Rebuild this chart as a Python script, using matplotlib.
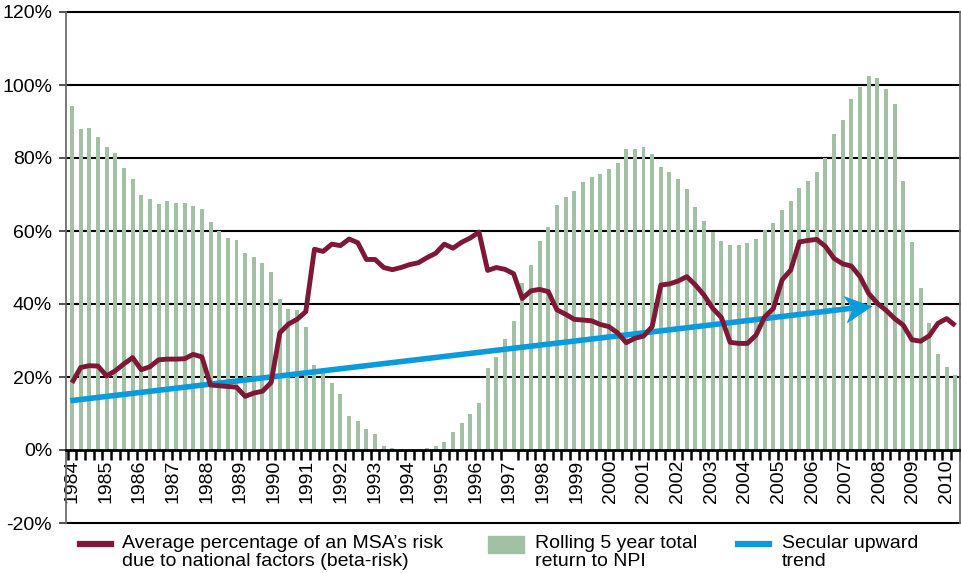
import numpy as np
import matplotlib
matplotlib.use("Agg")
import matplotlib.pyplot as plt
from matplotlib.lines import Line2D
from matplotlib.patches import Rectangle
from matplotlib.path import Path
from matplotlib.markers import MarkerStyle
from matplotlib.transforms import Affine2D

# ---------------- data ----------------
year_labels = [str(y) for y in range(1984, 2011)]

npi_rolling_return = [
    94.2, 87.9, 88.3, 85.8, 82.9, 81.4, 77.3, 74.3, 69.9, 68.8,
    67.3, 68.2, 67.7, 67.7, 66.9, 66.0, 62.4, 60.0, 58.2, 57.6,
    53.9, 52.8, 51.2, 48.9, 41.4, 38.6, 38.3, 33.6, 23.3, 21.0,
    18.4, 15.4, 9.3, 8.0, 5.8, 4.4, 1.1, 0.5, 0.0, 0.0,
    0.0, 0.5, 1.1, 2.2, 5.0, 7.3, 9.8, 13.0, 22.5, 25.5,
    30.3, 35.3, 45.7, 50.7, 57.3, 61.0, 67.1, 69.2, 71.0, 73.3,
    74.9, 75.5, 77.1, 78.7, 82.5, 82.5, 82.9, 81.0, 77.6, 76.1,
    74.2, 71.4, 66.5, 62.7, 59.6, 57.3, 56.1, 56.1, 56.8, 57.7,
    60.3, 62.2, 65.8, 68.2, 71.7, 73.8, 76.3, 79.9, 86.6, 90.4,
    96.1, 99.5, 102.5, 102.0, 98.9, 94.8, 73.8, 57.0, 44.3, 34.9,
    26.2, 22.7, 20.5,
]

beta_risk = [
    18.4, 22.6, 23.1, 23.0, 20.3, 21.7, 23.6, 25.3, 22.0, 22.8,
    24.7, 24.9, 24.9, 25.0, 26.2, 25.5, 17.8, 17.6, 17.4, 17.2,
    14.7, 15.6, 16.1, 18.5, 32.1, 34.5, 35.8, 37.9, 55.0, 54.4,
    56.4, 56.0, 57.8, 56.8, 52.2, 52.2, 50.0, 49.4, 50.0, 50.8,
    51.3, 52.7, 53.9, 56.4, 55.3, 56.9, 58.1, 59.7, 49.2, 50.0,
    49.5, 48.3, 41.5, 43.6, 44.0, 43.4, 38.4, 37.2, 35.8, 35.6,
    35.4, 34.4, 33.8, 32.1, 29.4, 30.6, 31.2, 33.8, 45.2, 45.5,
    46.3, 47.5, 45.2, 42.4, 38.8, 36.3, 29.5, 29.2, 29.2, 31.5,
    36.5, 38.8, 46.6, 49.3, 57.0, 57.4, 57.7, 55.8, 52.5, 51.0,
    50.4, 47.5, 42.9, 40.2, 38.3, 36.0, 34.2, 30.2, 29.8, 31.3,
    34.7, 36.0, 34.1,
]

trend_values = [13.5, 39.5]        # % at start / arrow tip
trend_quarters = [-0.2, 92.4]      # quarter index at start / arrow tip

y_ticks = [-20, 0, 20, 40, 60, 80, 100, 120]

legend_labels = [
    "Average percentage of an MSA\u2019s risk\ndue to national factors (beta-risk)",
    "Rolling 5 year total\nreturn to NPI",
    "Secular upward\ntrend",
]

# ---------------- style ----------------
GREEN = "#a2c1a4"
MAROON = "#7f1737"
BLUE = "#0a9bdc"

plt.rcParams["font.family"] = ["Liberation Sans", "DejaVu Sans"]
FS = 14

W, H = 961, 573
fig = plt.figure(figsize=(W / 100, H / 100), dpi=100)
ax = fig.add_axes([66 / W, 50 / H, 894 / W, 511 / H])

n = len(npi_rolling_return)
x = np.arange(n)

ax.set_xlim(-0.69, n - 0.45)
ax.set_ylim(-20, 120)

# gridlines (behind bars)
for yv in y_ticks[2:]:
    ax.axhline(yv, color="black", lw=1.5, zorder=1, clip_on=False)
ax.axhline(-20, color="black", lw=1.5, zorder=1, clip_on=False)

ax.bar(x, npi_rolling_return, width=0.46, color=GREEN, zorder=2, linewidth=0)

ax.plot(x, beta_risk, color=MAROON, lw=3.5, zorder=4,
        solid_joinstyle="round", solid_capstyle="butt")

# trend arrow
fig.canvas.draw()
p0 = ax.transData.transform((trend_quarters[0], trend_values[0]))
p1 = ax.transData.transform((trend_quarters[1], trend_values[1]))
d = p1 - p0
ang = np.degrees(np.arctan2(d[1], d[0]))
u = d / np.hypot(*d)
shaft_end = ax.transData.inverted().transform(p1 - u * 18)
ax.plot([trend_quarters[0], shaft_end[0]], [trend_values[0], shaft_end[1]],
        color=BLUE, lw=4.0, zorder=3, solid_capstyle="butt")
head = Path([(0, 0), (-28, 14), (-20, 0), (-28, -14), (0, 0)],
            [Path.MOVETO, Path.LINETO, Path.LINETO, Path.LINETO, Path.CLOSEPOLY])
ms = MarkerStyle(head, transform=Affine2D().rotate_deg(ang))
ax.plot([trend_quarters[1]], [trend_values[1]], marker=ms, markersize=40,
        color=BLUE, markeredgewidth=0, linestyle="none", zorder=3)

# axes / spines
ax.spines["bottom"].set_position(("data", 0))
ax.spines["bottom"].set_color("black")
ax.spines["bottom"].set_linewidth(2)
ax.spines["bottom"].set_zorder(5)
ax.spines["top"].set_visible(False)
for s in ("left", "right"):
    ax.spines[s].set_color("#6d6d6d")
    ax.spines[s].set_linewidth(1.3)

ax.set_yticks(y_ticks)
ax.set_yticklabels([f"{v}%" for v in y_ticks], fontsize=FS)
ax.tick_params(axis="y", length=5, width=1.2, color="#333333", pad=5)

label_pos = np.linspace(0, 101.0, len(year_labels))
ax.set_xticks(label_pos)
ax.set_xticklabels(year_labels, rotation=90, fontsize=FS)
ax.set_xticks(np.arange(n + 1) - 0.5, minor=True)
ax.tick_params(axis="x", which="major", length=0, pad=7)
ax.tick_params(axis="x", which="minor", length=7, width=1.8, color="black",
               direction="out")

# legend (manual)
def fx(px):
    return px / W

def fy(py):
    return 1 - py / H

fig.add_artist(Line2D([fx(80), fx(111)], [fy(544), fy(544)], color=MAROON, lw=4.5))
fig.add_artist(Rectangle((fx(488), fy(553)), fx(36), 17 / H, color=GREEN))
fig.add_artist(Line2D([fx(738), fx(769)], [fy(544), fy(544)], color=BLUE, lw=4.5))
for xp, txt in zip([122, 535, 782], legend_labels):
    fig.text(fx(xp), fy(535), txt, fontsize=FS, va="top", ha="left",
             linespacing=1.1)

fig.savefig("out.png", dpi=100)
